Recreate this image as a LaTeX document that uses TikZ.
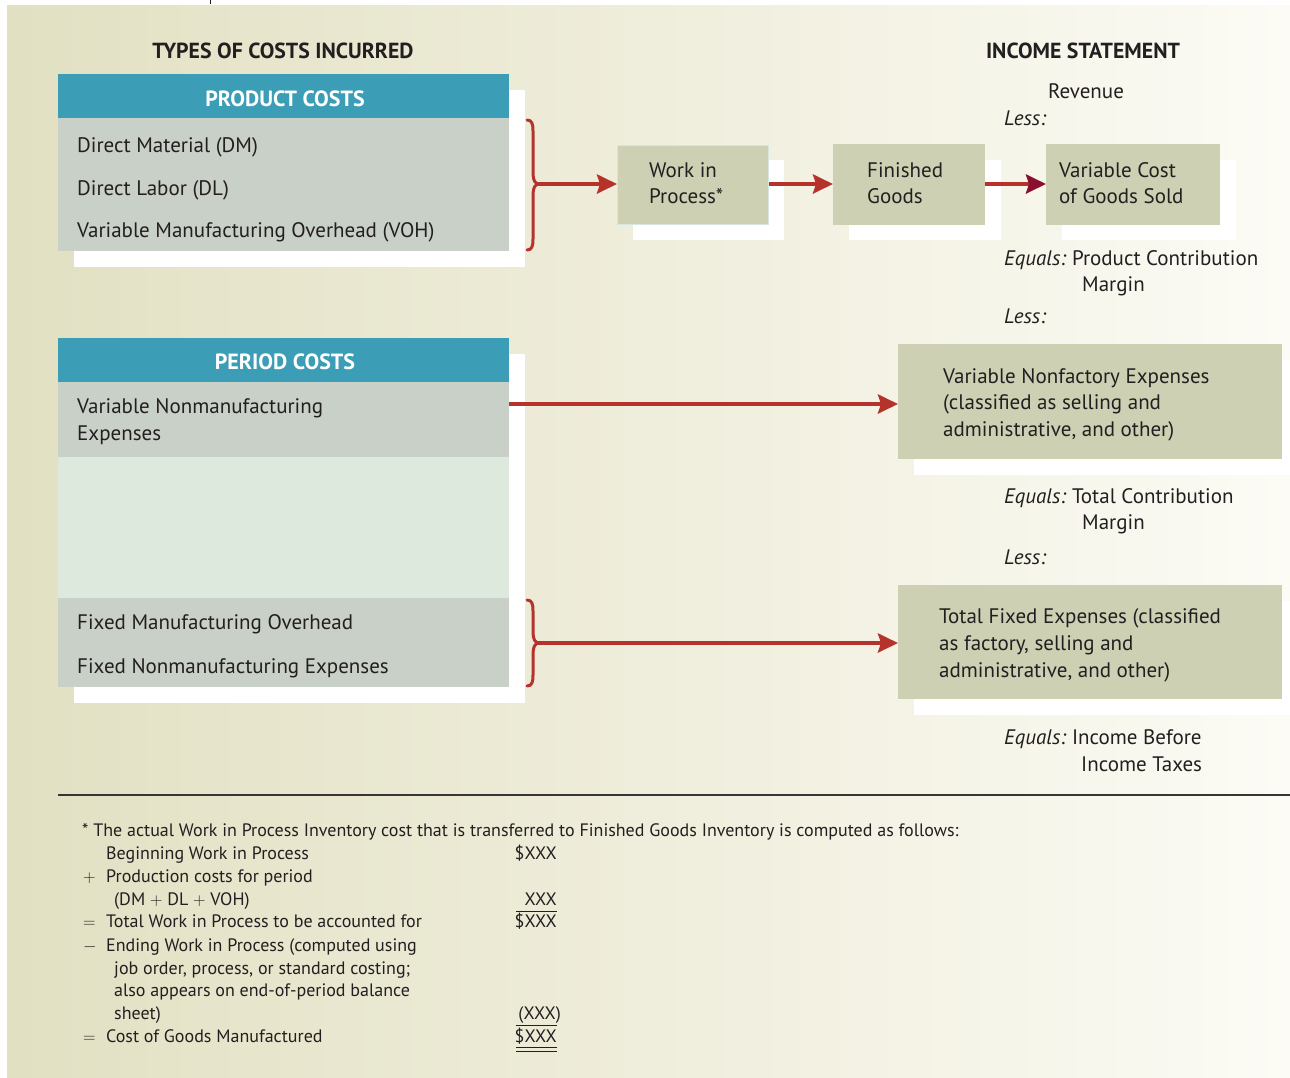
\documentclass[tikz,border=0pt]{standalone}
\usepackage{fontspec}
\setmainfont{PT Sans}
\usetikzlibrary{arrows.meta}
\definecolor{bgl}{HTML}{E2E0C2}
\definecolor{bgr}{HTML}{FCFBF5}
\definecolor{hdrteal}{HTML}{3B9DB6}
\definecolor{bodygray}{HTML}{C9D0C7}
\definecolor{lightgreen}{HTML}{DDE9DC}
\definecolor{boxfill}{HTML}{CDD0B3}
\definecolor{wipborder}{HTML}{D6E6E0}
\definecolor{arrowred}{HTML}{B5332A}
\definecolor{arrowdark}{HTML}{8A1030}
\definecolor{ink}{HTML}{231F20}
\begin{document}
\begin{tikzpicture}[x=1pt,y=-1pt,
  txt/.style={anchor=base west, inner sep=0, text=ink, font=\fontsize{21}{25}\selectfont},
  ctitle/.style={anchor=base, inner sep=0, text=ink, font=\bfseries\fontsize{21.8}{25}\selectfont},
  hdr/.style={anchor=base, inner sep=0, text=white, font=\bfseries\fontsize{22}{25}\selectfont},
  ftxt/.style={anchor=base west, inner sep=0, text=ink, font=\fontsize{18}{21}\selectfont},
  fnum/.style={anchor=base east, inner sep=0, text=ink, font=\fontsize{18}{21}\selectfont},
  panel/.style={anchor=north west, inner sep=0, draw=none},
  flowbox/.style={anchor=north west, inner sep=0, fill=boxfill},
  flow/.style={line width=4pt, draw=arrowred, -{Stealth[length=20pt,width=19pt,inset=3pt]}},
  flowdark/.style={line width=4pt, draw=arrowred, -{Stealth[length=20pt,width=19pt,inset=3pt,color=arrowdark]}},
  bracepath/.style={line width=3pt, draw=arrowred, line cap=round},
  rule/.style={line width=0.9pt, draw=ink}
]
\useasboundingbox (0,0) rectangle (1290,1077);
\fill[white] (0,0) rectangle (1290,1077);
\shade[left color=bgl, right color=bgr] (7,5) rectangle (1290,1077);
\draw[line width=1pt, ink] (210,0) -- (210,4);

% titles
\node[ctitle] (t1) at (283,58) {TYPES OF COSTS INCURRED};
\node[ctitle] (t2) at (1083,58) {INCOME STATEMENT};

% ---------- product costs panel ----------
\fill[white] (74,90) rectangle (525,267);
\node[panel, fill=hdrteal, minimum width=451pt, minimum height=44pt] (pchead) at (58,74) {};
\node[panel, fill=bodygray, minimum width=451pt, minimum height=133pt] (pcbody) at (58,118) {};
\node[hdr] (pclab) at (285,106) {PRODUCT COSTS};
\node[txt] (dm) at (77,152) {Direct Material (DM)};
\node[txt] (dl) at (77,195) {Direct Labor (DL)};
\node[txt] (voh) at (77,237) {Variable Manufacturing Overhead (VOH)};

% brace 1
\draw[bracepath] (527,120) .. controls (532,120) and (533,124) .. (533,131)
  -- (533,173) .. controls (533,180) and (535,184) .. (539,184)
  .. controls (535,184) and (533,188) .. (533,195)
  -- (533,239) .. controls (533,246) and (532,250) .. (527,250);
\coordinate (tip1) at (538,184);

% ---------- flow boxes ----------
\fill[white] (633,160) rectangle (784,240);
\node[flowbox, draw=wipborder, line width=1pt, minimum width=151pt, minimum height=79pt] (wip) at (617,145) {};
\node[txt] (wip1) at (649,177) {Work in};
\node[txt] (wip2) at (649,203) {Process*};

\fill[white] (849,160) rectangle (1001,240);
\node[flowbox, minimum width=152pt, minimum height=81pt] (fg) at (833,144) {};
\node[txt] (fg1) at (867,177) {Finished};
\node[txt] (fg2) at (867,203) {Goods};

\fill[white] (1062,160) rectangle (1236,240);
\node[flowbox, minimum width=174pt, minimum height=81pt] (vcgs) at (1046,144) {};
\node[txt] (vc1) at (1059,177) {Variable Cost};
\node[txt] (vc2) at (1059,203) {of Goods Sold};

\draw[flow] (tip1) -- (tip1 -| wip.west);
\draw[flow] (wip.east |- tip1) -- (tip1 -| fg.west);
\draw[flowdark] (fg.east |- tip1) -- (tip1 -| vcgs.west);

% income statement labels
\node[txt] (rev) at (1048,98) {Revenue};
\node[txt] (less1) at (1004,125) {\textit{Less:}};
\node[txt] (eq1) at (1004,265) {\textit{Equals:}\hspace{-2pt} Product Contribution};
\node[txt] (eq1b) at (1082,291) {Margin};
\node[txt] (less2) at (1004,323) {\textit{Less:}};
\node[txt] (eq2) at (1004,503) {\textit{Equals:}\hspace{-2pt} Total Contribution};
\node[txt] (eq2b) at (1082,529) {Margin};
\node[txt] (less3) at (1004,564) {\textit{Less:}};
\node[txt] (eq3) at (1004,744) {\textit{Equals:}\hspace{-2pt} Income Before};
\node[txt] (eq3b) at (1081,771) {Income Taxes};

% ---------- period costs panel ----------
\fill[white] (74,354) rectangle (525,703);
\node[panel, fill=hdrteal, minimum width=451pt, minimum height=44pt] (pdhead) at (58,338) {};
\node[panel, fill=bodygray, minimum width=451pt, minimum height=75pt] (vnrow) at (58,382) {};
\node[panel, fill=lightgreen, minimum width=451pt, minimum height=141pt] (gap) at (58,457) {};
\node[panel, fill=bodygray, minimum width=451pt, minimum height=89pt] (fixrow) at (58,598) {};
\node[hdr] (pdlab) at (285,369) {PERIOD COSTS};
\node[txt] (vn1) at (77,413) {Variable Nonmanufacturing};
\node[txt] (vn2) at (77,440) {Expenses};
\node[txt] (fmo) at (77,629) {Fixed Manufacturing Overhead};
\node[txt] (fne) at (77,673) {Fixed Nonmanufacturing Expenses};

% brace 2
\draw[bracepath] (527,600) .. controls (532,600) and (533,604) .. (533,611)
  -- (533,632) .. controls (533,639) and (535,643) .. (539,643)
  .. controls (535,643) and (533,647) .. (533,654)
  -- (533,675) .. controls (533,682) and (532,686) .. (527,686);
\coordinate (tip2) at (538,643);

% right boxes
\fill[white] (914,360) rectangle (1290,475);
\node[flowbox, minimum width=384pt, minimum height=115pt] (vne) at (898,344) {};
\node[txt] (vne1) at (943,383) {Variable Nonfactory Expenses};
\node[txt] (vne2) at (943,409) {(classified as selling and};
\node[txt] (vne3) at (943,436) {administrative, and other)};

\fill[white] (914,601) rectangle (1290,715);
\node[flowbox, minimum width=384pt, minimum height=114pt] (tfe) at (898,585) {};
\node[txt] (tfe1) at (939,623) {Total Fixed Expenses (classified};
\node[txt] (tfe2) at (939,650) {as factory, selling and};
\node[txt] (tfe3) at (939,677) {administrative, and other)};

\coordinate (vnstart) at (509,404);
\draw[flow] (vnstart) -- (vnstart -| vne.west);
\draw[flow] (tip2) -- (tip2 -| tfe.west);

% rule
\draw[line width=1.4pt, draw=ink!90] (58,795) -- (1290,795);

% ---------- footnote ----------
\node[ftxt] (f0) at (82,836) {* The actual Work in Process Inventory cost that is transferred to Finished Goods Inventory is computed as follows:};
\node[ftxt] (f1) at (106,859) {Beginning Work in Process};
\node[fnum] (a1) at (557,859) {\$XXX};
\node[ftxt] (s2) at (83,882) {$+$};
\node[ftxt] (f2) at (106,882) {Production costs for period};
\node[ftxt] (f3) at (114,905) {(DM $+$ DL $+$ VOH)};
\node[fnum] (a3) at (557,905) {XXX};
\node[ftxt] (s4) at (83,927) {$=$};
\node[ftxt] (f4) at (106,927) {Total Work in Process to be accounted for};
\node[fnum] (a4) at (557,927) {\$XXX};
\node[ftxt] (s5) at (83,951) {$-$};
\node[ftxt] (f5) at (106,951) {Ending Work in Process (computed using};
\node[ftxt] (f6) at (114,974) {job order, process, or standard costing;};
\node[ftxt] (f7) at (114,996) {also appears on end-of-period balance};
\node[ftxt] (f8) at (114,1019) {sheet)};
\node[fnum] (a8) at (561,1019) {(XXX)};
\node[ftxt] (s9) at (83,1042) {$=$};
\node[ftxt] (f9) at (106,1042) {Cost of Goods Manufactured};
\node[fnum] (a9) at (557,1042) {\$XXX};
\draw[rule] (516,911) -- (557,911);
\draw[rule] (516,1025) -- (557,1025);
\draw[rule] (516,1047) -- (557,1047);
\draw[rule] (516,1051) -- (557,1051);
\end{tikzpicture}
\end{document}
